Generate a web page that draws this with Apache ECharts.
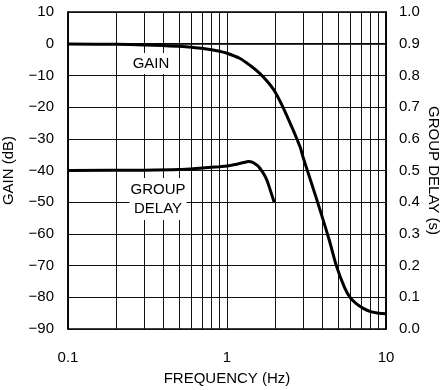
<!DOCTYPE html>
<html>
<head>
<meta charset="utf-8">
<script src="https://cdn.jsdelivr.net/npm/echarts@6/dist/echarts.min.js"></script>
<style>
html,body{margin:0;padding:0;background:#fff;}
#c{width:442px;height:390px;}
</style>
</head>
<body>
<div id="c"></div>
<script>
// ---- data ----
var gainFreq = [0.1, 0.2, 0.3, 0.4, 0.5, 0.6, 0.7, 0.8, 0.9, 1.0, 1.2, 1.4, 1.6, 1.8, 2.0, 2.37, 2.88, 3.0, 3.4, 3.85, 4.4, 4.9, 5.5, 5.94, 6.5, 7.2, 8.0, 9.0, 10];
var gainDb   = [-0.1, -0.2, -0.4, -0.6, -0.8, -1.1, -1.5, -1.9, -2.4, -3.0, -4.6, -6.9, -9.3, -12.0, -15.1, -22.5, -32.5, -35.6, -44, -52.5, -62, -70.4, -77, -80, -82, -83.5, -84.5, -85, -85.2];
var delayFreq = [0.1, 0.3, 0.5, 0.7, 0.9, 1.0, 1.15, 1.3, 1.36, 1.45, 1.55, 1.61, 1.7, 1.78, 1.88, 1.98];
var delaySec  = [0.500, 0.501, 0.503, 0.508, 0.512, 0.514, 0.520, 0.526, 0.528, 0.526, 0.516, 0.507, 0.49, 0.47, 0.435, 0.40];
var minorFreqs = [0.2, 0.3, 0.4, 0.5, 0.6, 0.7, 0.8, 0.9, 2, 3, 4, 5, 6, 7, 8, 9];
var xTickLabels = {'-1': '0.1', '0': '1', '1': '10'};

var FONT = "'Liberation Sans Narrow', 'Liberation Sans', Arial, sans-serif";
var FS = 15;
var chart = echarts.init(document.getElementById('c'), null, {renderer: 'canvas'});

function pairs(xs, ys) { return xs.map(function (x, i) { return [x, ys[i]]; }); }

var option = {
  animation: false,
  backgroundColor: '#fff',
  grid: {left: 68, right: 56, top: 12, bottom: 61, containLabel: false, outerBoundsMode: 'none',
    show: true, borderColor: '#000', borderWidth: 1.5, backgroundColor: 'transparent'},
  xAxis: {
    type: 'log', logBase: 10, min: 0.1, max: 10,
    name: 'FREQUENCY (Hz)', nameLocation: 'middle', nameGap: 42,
    nameTextStyle: {fontFamily: FONT, fontSize: FS, color: '#000'},
    axisLine: {show: true, lineStyle: {color: '#000', width: 1.5}},
    axisTick: {show: false},
    axisLabel: {fontFamily: FONT, fontSize: FS, color: '#000', margin: 21,
      formatter: function (v) { var k = Math.round(Math.log10(v)); return xTickLabels[String(k)] || ''; }},
    splitLine: {show: true, lineStyle: {color: '#111', width: 1}}
  },
  yAxis: [{
    type: 'value', min: -90, max: 10, interval: 10,
    name: 'GAIN (dB)', nameLocation: 'middle', nameGap: 52,
    nameTextStyle: {fontFamily: FONT, fontSize: FS, color: '#000'},
    axisLine: {show: true, lineStyle: {color: '#000', width: 1.5}},
    axisTick: {show: false},
    axisLabel: {fontFamily: FONT, fontSize: FS, color: '#000', margin: 14,
      formatter: function (v) { return String(v).replace('-', '\u2212'); }},
    splitLine: {show: true, lineStyle: {color: '#111', width: 1}}
  }, {
    type: 'value', min: 0, max: 1, interval: 0.1,
    name: 'GROUP DELAY (s)', nameLocation: 'middle', nameGap: 40, nameRotate: -90,
    nameMoveOverlap: false,
    nameTextStyle: {fontFamily: FONT, fontSize: FS, color: '#000'},
    axisLine: {show: true, lineStyle: {color: '#000', width: 1.5}},
    axisTick: {show: false},
    axisLabel: {fontFamily: FONT, fontSize: FS, color: '#000', margin: 13,
      formatter: function (v) { return v.toFixed(1); }},
    splitLine: {show: false}
  }],
  series: [{
    type: 'line', name: 'GAIN', yAxisIndex: 0,
    data: pairs(gainFreq, gainDb),
    smooth: 0.3, showSymbol: false, symbol: 'none',
    lineStyle: {color: '#000', width: 3},
    z: 5,
    markLine: {
      silent: true, symbol: ['none', 'none'], label: {show: false},
      lineStyle: {color: '#111', width: 1, type: 'solid'},
      data: minorFreqs.map(function (f) { return {xAxis: f}; }),
      z: 1
    }
  }, {
    type: 'line', name: 'GROUP DELAY', yAxisIndex: 1,
    data: pairs(delayFreq, delaySec),
    smooth: 0.3, showSymbol: false, symbol: 'none',
    lineStyle: {color: '#000', width: 3},
    z: 5
  }],
  graphic: [{
    type: 'text', x: 151, y: 63.5, z: 10,
    style: {text: 'GAIN', font: FS + 'px ' + FONT, fill: '#000', align: 'center', verticalAlign: 'middle',
      backgroundColor: '#fff', padding: [3, 1, 3, 1]}
  }, {
    type: 'text', x: 158, y: 199, z: 10,
    style: {text: 'GROUP\nDELAY', font: FS + 'px ' + FONT, fill: '#000', align: 'center', verticalAlign: 'middle',
      lineHeight: 19, backgroundColor: '#fff', padding: [2, 1, 2, 1]}
  }]
};
chart.setOption(option);
</script>
</body>
</html>
